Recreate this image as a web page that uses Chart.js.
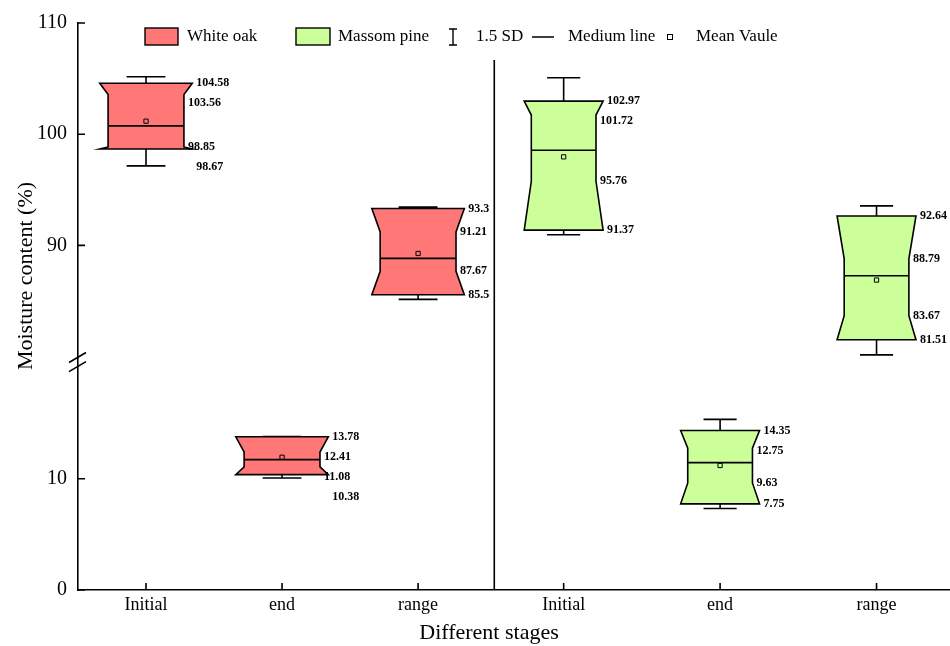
<!DOCTYPE html>
<html>
<head>
<meta charset="utf-8">
<script src="https://cdn.jsdelivr.net/npm/chart.js@4.4.0/dist/chart.umd.min.js"></script>
<style>
  html, body { margin: 0; padding: 0; background: #fff; overflow: hidden; }
  canvas { display: block; }
</style>
</head>
<body>
<canvas id="chart" width="950" height="646"></canvas>
<script>
// ---- data ----
const stages = ["Initial", "end", "range"];
const species = ["White oak", "Massom pine"];

const oakWhiskerLow  = [97.15, 10.08, 85.14];
const oakQ1          = [98.67, 10.38, 85.56];
const oakNotchLow    = [98.85, 11.08, 87.67];
const oakMedian      = [100.75, 11.73, 88.83];
const oakNotchHigh   = [103.56, 12.41, 91.21];
const oakQ3          = [104.58, 13.78, 93.32];
const oakWhiskerHigh = [105.17, 13.80, 93.44];
const oakMean        = [101.17, 11.94, 89.27];

const pineWhiskerLow  = [90.95, 7.33, 80.15];
const pineQ1          = [91.37, 7.75, 81.51];
const pineNotchLow    = [95.76, 9.63, 83.67];
const pineMedian      = [98.56, 11.46, 87.27];
const pineNotchHigh   = [101.72, 12.75, 88.79];
const pineQ3          = [102.97, 14.35, 92.64];
const pineWhiskerHigh = [105.08, 15.35, 93.55];
const pineMean        = [97.96, 11.20, 86.88];

const yTicks = [0, 10, 90, 100, 110];

// ---- broken y axis: 0..20 and 80..110 ----
const breakLow = 20, breakHigh = 80, breakGap = 1;
function toAxis(v) { return v <= breakLow ? v : v - (breakHigh - breakLow) + breakGap; }
function fromAxis(a) { return a <= breakLow ? a : a + (breakHigh - breakLow) - breakGap; }

// layout of the two panels on the x scale
const xLeft = [0.5, 1.5, 2.5];
const xRight = [3.57, 4.72, 5.87];
const xDivider = 3.06;
const xMax = 6.41;

const serif = "'Liberation Serif', 'Times New Roman', serif";
const oakColor = "#ff7777";
const pineColor = "#ccff99";

const groups = [
  { pos: xLeft, width: 0.68, color: oakColor, clip: true,
    wl: oakWhiskerLow, q1: oakQ1, nl: oakNotchLow, med: oakMedian, nh: oakNotchHigh, q3: oakQ3, wh: oakWhiskerHigh },
  { pos: xRight, width: 0.58, color: pineColor, clip: false,
    wl: pineWhiskerLow, q1: pineQ1, nl: pineNotchLow, med: pineMedian, nh: pineNotchHigh, q3: pineQ3, wh: pineWhiskerHigh }
];

const boxPlugin = {
  id: 'boxes',
  beforeDatasetsDraw(chart) {
    const ctx = chart.ctx;
    const x = chart.scales.x, y = chart.scales.y;
    const py = v => y.getPixelForValue(toAxis(v));
    const area = chart.chartArea;

    groups.forEach(g => {
      g.pos.forEach((p, i) => {
        const cx = x.getPixelForValue(p);
        const hw = (x.getPixelForValue(p + g.width / 2) - x.getPixelForValue(p - g.width / 2)) / 2;
        const hi = hw * 0.82;
        const cap = hw * 0.42;
        ctx.save();
        ctx.strokeStyle = '#000';
        ctx.lineWidth = 1.6;
        // whiskers
        ctx.beginPath();
        ctx.moveTo(cx, py(g.q3[i])); ctx.lineTo(cx, py(g.wh[i]));
        ctx.moveTo(cx - cap, py(g.wh[i])); ctx.lineTo(cx + cap, py(g.wh[i]));
        ctx.moveTo(cx, py(g.q1[i])); ctx.lineTo(cx, py(g.wl[i]));
        ctx.moveTo(cx - cap, py(g.wl[i])); ctx.lineTo(cx + cap, py(g.wl[i]));
        ctx.stroke();
        // notched box
        ctx.beginPath();
        ctx.moveTo(cx - hw, py(g.q3[i]));
        ctx.lineTo(cx + hw, py(g.q3[i]));
        ctx.lineTo(cx + hi, py(g.nh[i]));
        ctx.lineTo(cx + hi, py(g.nl[i]));
        ctx.lineTo(cx + hw, py(g.q1[i]));
        ctx.lineTo(cx - hw, py(g.q1[i]));
        ctx.lineTo(cx - hi, py(g.nl[i]));
        ctx.lineTo(cx - hi, py(g.nh[i]));
        ctx.closePath();
        ctx.fillStyle = g.color;
        ctx.fill();
        ctx.stroke();
        // median
        ctx.beginPath();
        ctx.moveTo(cx - hi, py(g.med[i])); ctx.lineTo(cx + hi, py(g.med[i]));
        ctx.stroke();

        // value labels, pushed apart so they do not overlap
        const vals = [g.q3[i], g.nh[i], g.nl[i], g.q1[i]];
        const xs = [cx + hw + 4, cx + hi + 4, cx + hi + 4, cx + hw + 4];
        let last = -Infinity;
        if (g.clip) {
          ctx.beginPath();
          ctx.rect(area.left, 0, x.getPixelForValue(xDivider) - 5 - area.left, chart.height);
          ctx.clip();
        }
        ctx.font = "bold 12px " + serif;
        ctx.fillStyle = '#000';
        ctx.textAlign = 'left';
        ctx.textBaseline = 'middle';
        vals.forEach((v, k) => {
          let ly = Math.max(py(v), last + 20);
          last = ly;
          ctx.fillText(v.toFixed(2), xs[k], ly);
        });
        ctx.restore();
      });
    });
  },
  afterDraw(chart) {
    const ctx = chart.ctx;
    const x = chart.scales.x, y = chart.scales.y;
    const area = chart.chartArea;
    ctx.save();
    ctx.strokeStyle = '#000';
    ctx.lineWidth = 1.6;
    // inward tick marks
    ctx.beginPath();
    yTicks.forEach(v => {
      const yy = y.getPixelForValue(toAxis(v));
      ctx.moveTo(area.left, yy); ctx.lineTo(area.left + 7, yy);
    });
    xLeft.concat(xRight).forEach(p => {
      const xx = x.getPixelForValue(p);
      ctx.moveTo(xx, area.bottom); ctx.lineTo(xx, area.bottom - 7);
    });
    // panel divider
    const dx = x.getPixelForValue(xDivider);
    ctx.moveTo(dx, 60); ctx.lineTo(dx, area.bottom);
    ctx.stroke();

    // axis break marks
    const b1 = y.getPixelForValue(toAxis(breakLow));
    const b2 = y.getPixelForValue(toAxis(breakHigh));
    ctx.beginPath();
    [b1 - 1, b2 + 1].forEach(by => {
      ctx.moveTo(area.left - 9, by + 5); ctx.lineTo(area.left + 8, by - 5);
    });
    ctx.stroke();

    // axis titles
    ctx.fillStyle = '#000';
    ctx.font = "22px " + serif;
    ctx.textAlign = 'center';
    ctx.textBaseline = 'middle';
    ctx.fillText("Different stages", 489, 633);
    ctx.save();
    ctx.translate(26, 276);
    ctx.rotate(-Math.PI / 2);
    ctx.fillText("Moisture content (%)", 0, 0);
    ctx.restore();

    // legend
    const ly = 37;
    ctx.font = "17px " + serif;
    ctx.textAlign = 'left';
    ctx.lineWidth = 1.4;
    ctx.fillStyle = oakColor;
    ctx.fillRect(145, ly - 9, 33, 17);
    ctx.strokeRect(145, ly - 9, 33, 17);
    ctx.fillStyle = pineColor;
    ctx.fillRect(296, ly - 9, 34, 17);
    ctx.strokeRect(296, ly - 9, 34, 17);
    ctx.fillStyle = '#000';
    ctx.fillText(species[0], 187, ly);
    ctx.fillText(species[1], 338, ly);
    ctx.beginPath();
    ctx.moveTo(449, ly - 8); ctx.lineTo(457, ly - 8);
    ctx.moveTo(453, ly - 8); ctx.lineTo(453, ly + 8);
    ctx.moveTo(449, ly + 8); ctx.lineTo(457, ly + 8);
    ctx.moveTo(532, ly); ctx.lineTo(554, ly);
    ctx.stroke();
    ctx.fillText("1.5 SD", 476, ly);
    ctx.fillText("Medium line", 568, ly);
    ctx.lineWidth = 1;
    ctx.strokeRect(667.5, ly - 2.5, 5, 5);
    ctx.fillText("Mean Vaule", 696, ly);
    ctx.restore();
  }
};

const meanPoints = (pos, means) => pos.map((p, i) => ({ x: p, y: toAxis(means[i]) }));

new Chart(document.getElementById('chart'), {
  type: 'scatter',
  data: {
    datasets: [
      { label: species[0], data: meanPoints(xLeft, oakMean), pointStyle: 'rect', radius: 3,
        borderColor: '#000', borderWidth: 1, backgroundColor: 'transparent' },
      { label: species[1], data: meanPoints(xRight, pineMean), pointStyle: 'rect', radius: 3,
        borderColor: '#000', borderWidth: 1, backgroundColor: 'transparent' }
    ]
  },
  options: {
    responsive: false,
    animation: false,
    layout: { autoPadding: false, padding: { top: 22, right: 0, left: 0, bottom: 0 } },
    plugins: { legend: { display: false }, tooltip: { enabled: false } },
    scales: {
      x: {
        type: 'linear', min: 0, max: xMax,
        grid: { display: false, drawTicks: false },
        border: { display: true, color: '#000', width: 1.6 },
        afterBuildTicks: s => { s.ticks = xLeft.concat(xRight).map(v => ({ value: v })); },
        afterFit: s => { s.height = 56; },
        ticks: {
          padding: 4, color: '#000', maxRotation: 0, autoSkip: false,
          font: { family: serif, size: 18 },
          callback: (v, i) => stages[i % 3]
        }
      },
      y: {
        type: 'linear', min: 0, max: toAxis(110),
        grid: { display: false, drawTicks: false },
        border: { display: true, color: '#000', width: 1.6 },
        afterBuildTicks: s => { s.ticks = yTicks.map(v => ({ value: toAxis(v) })); },
        afterFit: s => { s.width = 78; },
        ticks: {
          padding: 11, color: '#000',
          font: { family: serif, size: 20 },
          callback: v => String(Math.round(fromAxis(v)))
        }
      }
    }
  },
  plugins: [boxPlugin]
});
</script>
</body>
</html>
